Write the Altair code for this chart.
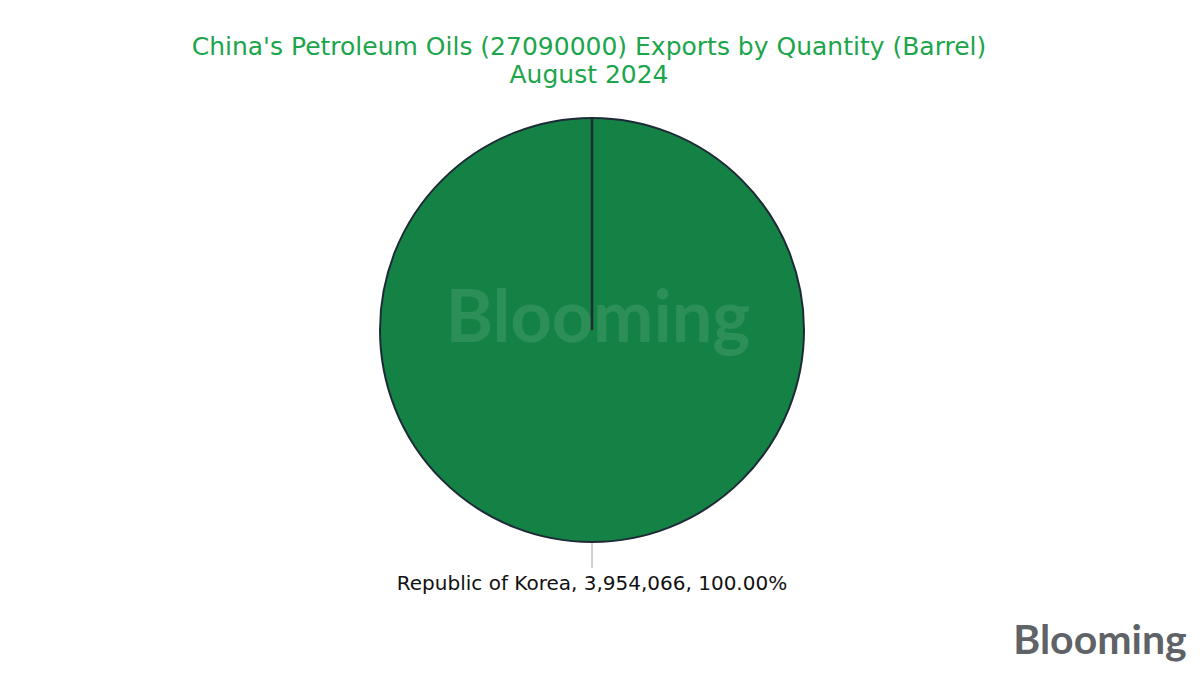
import altair as alt
import pandas as pd

# ---- data ----
countries = ["Republic of Korea"]
quantities = [3954066]
title_lines = ["China's Petroleum Oils (27090000) Exports by Quantity (Barrel)", "August 2024"]
brand = "Blooming"

total = sum(quantities)
labels = [f"{c}, {q:,}, {q / total * 100:.2f}%" for c, q in zip(countries, quantities)]
df = pd.DataFrame({"country": countries, "quantity": quantities, "label": labels})

W, H = 1184, 659
CX, CY, R = 584, 322, 212
FONT = "DejaVu Sans"

pie = alt.Chart(df).mark_arc(
    outerRadius=R, stroke="#1e2a38", strokeWidth=2, color="#138244"
).encode(
    theta=alt.Theta("quantity:Q", stack=True),
    x=alt.value(CX), y=alt.value(CY),
)

edge = alt.Chart(df).mark_rule(color="#1e2a38", strokeWidth=2.5).encode(
    x=alt.value(CX), y=alt.value(CY - R), y2=alt.value(CY)
)

watermark = alt.Chart(pd.DataFrame({"t": [brand]})).mark_text(
    font="Lato", fontSize=72, fontWeight="bold", color="#ffffff", opacity=0.1,
    align="center", baseline="middle"
).encode(text="t:N", x=alt.value(CX + 6), y=alt.value(CY - 10))

leader = alt.Chart(df).mark_rule(color="#a0a0a0", strokeWidth=1).encode(
    x=alt.value(CX), y=alt.value(CY + R + 1), y2=alt.value(CY + R + 26)
)

label = alt.Chart(df).mark_text(
    font=FONT, fontSize=20, color="#111111", align="center", baseline="middle"
).encode(text="label:N", x=alt.value(CX), y=alt.value(CY + R + 42))

title1 = alt.Chart(pd.DataFrame({"t": [title_lines[0]]})).mark_text(
    font=FONT, fontSize=25, color="#1ca54b", align="center", baseline="middle"
).encode(text="t:N", x=alt.value(581), y=alt.value(39))

title2 = alt.Chart(pd.DataFrame({"t": [title_lines[1]]})).mark_text(
    font=FONT, fontSize=25, color="#1ca54b", align="center", baseline="middle"
).encode(text="t:N", x=alt.value(581), y=alt.value(67))

logo = alt.Chart(pd.DataFrame({"t": [brand]})).mark_text(
    font="Lato", fontSize=41, fontWeight="bold", color="#5f6266",
    align="center", baseline="middle"
).encode(text="t:N", x=alt.value(1092), y=alt.value(634))

chart = alt.layer(pie, edge, watermark, leader, label, title1, title2, logo).properties(
    width=W, height=H, padding=0, autosize="none"
).configure_view(stroke=None)

chart.save("out.html", embed_options={"renderer": "svg", "actions": False})
